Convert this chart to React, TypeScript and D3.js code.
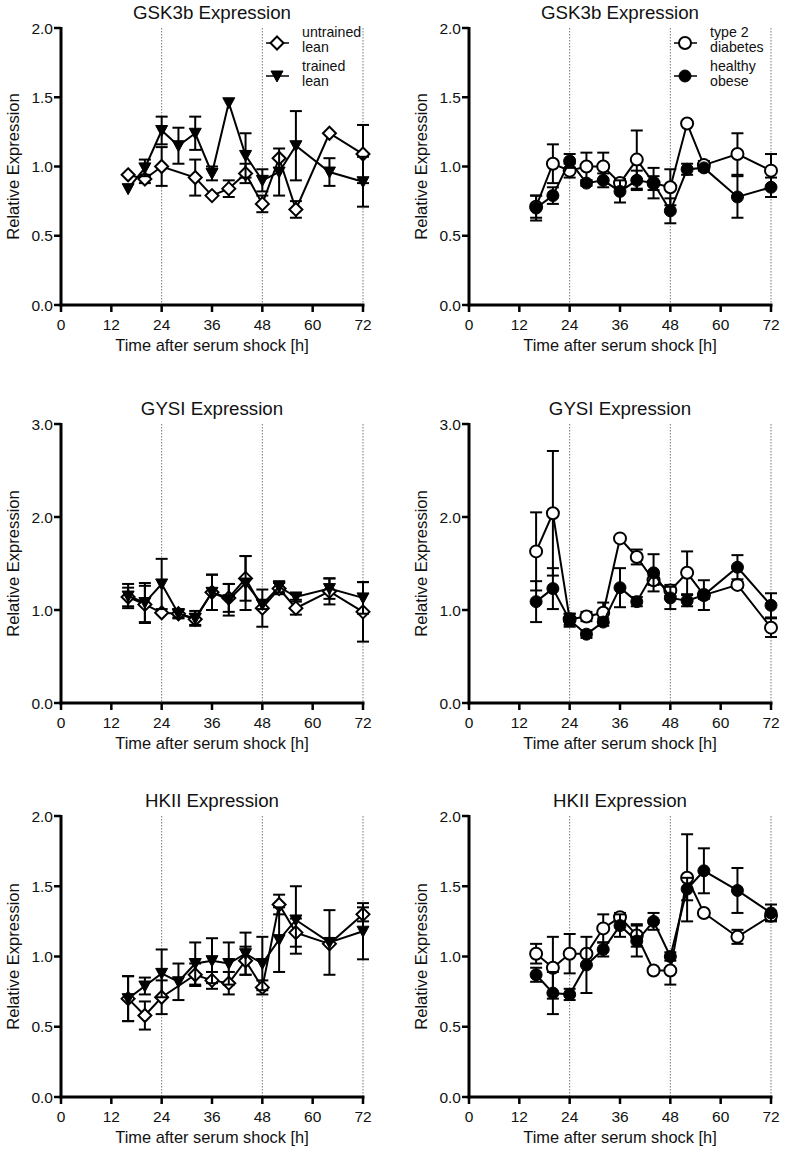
import React from 'react';
import * as d3 from 'd3';

// ---------- data ----------
const TIMES = [16, 20, 24, 28, 32, 36, 40, 44, 48, 52, 56, 64, 72];
const TIMES_NO28 = [16, 20, 24, 32, 36, 40, 44, 48, 52, 56, 64, 72];
const X_TICKS = [0, 12, 24, 36, 48, 60, 72];
const DOTTED_TIMES = [24, 48, 72];
const Y_TICKS_2 = [0, 0.5, 1, 1.5, 2];
const Y_TICKS_3 = [0, 1, 2, 3];

const TITLES = ['GSK3b Expression', 'GSK3b Expression', 'GYSI Expression', 'GYSI Expression', 'HKII Expression', 'HKII Expression'];
const LEGEND_LEFT = [['untrained', 'lean'], ['trained', 'lean']];
const LEGEND_RIGHT = [['type 2', 'diabetes'], ['healthy', 'obese']];

// GSK3b left
const gskUntrained = [0.94, 0.91, 1.0, 0.92, 0.79, 0.84, 0.95, 0.73, 1.06, 0.69, 1.24, 1.09];
const gskUntrainedSem = [0, 0.03, 0.14, 0.13, 0, 0.06, 0.07, 0.06, 0, 0.06, 0, 0.21];
const gskTrained = [0.84, 0.99, 1.26, 1.15, 1.24, 0.95, 1.46, 1.08, 0.9, 0.96, 1.15, 0.96, 0.89];
const gskTrainedSem = [0, 0.06, 0.1, 0.13, 0.12, 0.05, 0, 0.16, 0.08, 0.17, 0.25, 0.1, 0.18];
// GSK3b right
const gskT2D = [0.71, 1.02, 0.97, 1.0, 1.0, 0.88, 1.05, 0.88, 0.85, 1.31, 1.01, 1.09, 0.97];
const gskT2DSem = [0.08, 0.14, 0.05, 0.1, 0.1, 0.03, 0.21, 0.05, 0.13, 0, 0.03, 0.15, 0.12];
const gskObese = [0.7, 0.79, 1.04, 0.88, 0.9, 0.82, 0.9, 0.88, 0.68, 0.98, 0.99, 0.78, 0.85];
const gskObeseSem = [0.09, 0.06, 0.05, 0.02, 0.05, 0.08, 0.07, 0.11, 0.09, 0.04, 0.02, 0.15, 0.07];
// GYSI left
const gysUntrained = [1.14, 1.06, 0.97, 0.96, 0.9, 1.19, 1.13, 1.34, 1.02, 1.23, 1.02, 1.2, 0.98];
const gysUntrainedSem = [0.1, 0.2, 0, 0.04, 0.06, 0.19, 0.15, 0.24, 0.2, 0.06, 0.07, 0.14, 0.32];
const gysTrained = [1.15, 1.08, 1.28, 0.96, 0.91, 1.19, 1.11, 1.29, 1.06, 1.25, 1.14, 1.23, 1.13];
const gysTrainedSem = [0.13, 0.21, 0.27, 0.05, 0.08, 0.19, 0.17, 0.29, 0.05, 0.06, 0.03, 0.11, 0.17];
// GYSI right
const gysT2D = [1.63, 2.04, 0.9, 0.93, 0.97, 1.77, 1.57, 1.32, 1.21, 1.4, 1.16, 1.27, 0.81];
const gysT2DSem = [0.42, 0.67, 0.06, 0.05, 0.11, 0, 0.08, 0.05, 0.06, 0.23, 0.04, 0.03, 0.1];
const gysObese = [1.09, 1.23, 0.89, 0.74, 0.87, 1.24, 1.09, 1.4, 1.13, 1.1, 1.16, 1.46, 1.05];
const gysObeseSem = [0.22, 0.22, 0.07, 0.04, 0.04, 0.21, 0.05, 0.2, 0.12, 0.06, 0.16, 0.13, 0.13];
// HKII left
const hkUntrained = [0.7, 0.58, 0.71, 0.87, 0.83, 0.81, 0.97, 0.78, 1.37, 1.17, 1.09, 1.3];
const hkUntrainedSem = [0.16, 0.1, 0.12, 0.08, 0.06, 0.08, 0.1, 0.05, 0.07, 0.1, 0, 0.05];
const hkTrained = [0.7, 0.79, 0.88, 0.82, 0.95, 0.97, 0.95, 1.02, 0.95, 1.12, 1.26, 1.1, 1.18];
const hkTrainedSem = [0.16, 0.06, 0.17, 0.13, 0.15, 0.16, 0.15, 0.15, 0.19, 0.23, 0.24, 0.23, 0.2];
// HKII right
const hkT2D = [1.02, 0.92, 1.02, 1.02, 1.2, 1.28, 1.15, 0.9, 0.9, 1.56, 1.31, 1.14, 1.29];
const hkT2DSem = [0.07, 0.22, 0.14, 0, 0.1, 0.03, 0.08, 0, 0.1, 0.31, 0, 0.05, 0.03];
const hkObese = [0.87, 0.74, 0.73, 0.94, 1.05, 1.22, 1.11, 1.25, 1.0, 1.48, 1.61, 1.47, 1.31];
const hkObeseSem = [0.05, 0.15, 0.04, 0.2, 0.05, 0.08, 0.11, 0.06, 0.03, 0.08, 0.16, 0.16, 0.06];

type Marker = 'diamond' | 'triangle' | 'circleOpen' | 'circleFilled';
interface Series { t: number[]; v: number[]; sem: number[]; marker: Marker; }

const FONT = "Arial, 'Liberation Sans', Helvetica, sans-serif";
const COLS = [61, 469];
const PLOT_W = 302;
const ROWS = [
  { top: 28, bottom: 305 },
  { top: 424, bottom: 703 },
  { top: 816, bottom: 1097 },
];

function MarkerShape({ type, x, y }: { type: Marker; x: number; y: number }) {
  if (type === 'diamond') {
    const r = 6.5;
    return <path d={`M${x},${y - r}L${x + r},${y}L${x},${y + r}L${x - r},${y}Z`} fill="#fff" stroke="#000" strokeWidth={2} />;
  }
  if (type === 'triangle') {
    return <path d={`M${x - 6},${y - 5}L${x + 6},${y - 5}L${x},${y + 6}Z`} fill="#000" stroke="#000" strokeWidth={1} />;
  }
  if (type === 'circleOpen') {
    return <circle cx={x} cy={y} r={6} fill="#fff" stroke="#000" strokeWidth={2} />;
  }
  return <circle cx={x} cy={y} r={6} fill="#000" stroke="#000" strokeWidth={1} />;
}

function Panel({ col, row, ymax, yticks, title, series, legend }: {
  col: number; row: number; ymax: number; yticks: number[]; title: string; series: Series[]; legend: string[][];
}) {
  const x0 = COLS[col];
  const { top, bottom } = ROWS[row];
  const xs = d3.scaleLinear().domain([0, 72]).range([x0, x0 + PLOT_W]);
  const ys = d3.scaleLinear().domain([0, ymax]).range([bottom, top]);
  const fmt = d3.format('.1f');
  const line = d3.line<[number, number]>().x(d => xs(d[0])).y(d => ys(d[1]));
  const legendMarkers: Marker[] = [series[0].marker, series[1].marker];
  const legendY = [{ sym: 43, l1: 37, l2: 52 }, { sym: 76, l1: 71, l2: 86 }];
  return (
    <g>
      <text x={(x0 + x0 + PLOT_W) / 2} y={top - 9} textAnchor="middle" fontSize={18.7} fontFamily={FONT} fill="#111">{title}</text>
      {DOTTED_TIMES.map(t => (
        <line key={t} x1={xs(t)} x2={xs(t)} y1={top} y2={bottom} stroke="#777" strokeWidth={1} strokeDasharray="1.5,1.5" />
      ))}
      {series.map((s, si) => {
        const pts = s.t.map((t, i) => [t, s.v[i]] as [number, number]);
        return (
          <g key={si}>
            <path d={line(pts) || ''} fill="none" stroke="#000" strokeWidth={2} />
            {s.t.map((t, i) => s.sem[i] > 0 ? (
              <g key={i} stroke="#000" strokeWidth={2}>
                <line x1={xs(t)} x2={xs(t)} y1={ys(s.v[i] - s.sem[i])} y2={ys(s.v[i] + s.sem[i])} />
                <line x1={xs(t) - 6} x2={xs(t) + 6} y1={ys(s.v[i] - s.sem[i])} y2={ys(s.v[i] - s.sem[i])} />
                <line x1={xs(t) - 6} x2={xs(t) + 6} y1={ys(s.v[i] + s.sem[i])} y2={ys(s.v[i] + s.sem[i])} />
              </g>
            ) : null)}
            {s.t.map((t, i) => <MarkerShape key={'m' + i} type={s.marker} x={xs(t)} y={ys(s.v[i])} />)}
          </g>
        );
      })}
      {/* axes */}
      <line x1={x0} x2={x0} y1={top - 1} y2={bottom + 1.5} stroke="#000" strokeWidth={3} />
      <line x1={x0 - 1.5} x2={x0 + PLOT_W + 1.5} y1={bottom} y2={bottom} stroke="#000" strokeWidth={3} />
      {yticks.map(v => (
        <g key={v}>
          <line x1={x0 - 7} x2={x0} y1={ys(v)} y2={ys(v)} stroke="#000" strokeWidth={2.5} />
          <text x={x0 - 8} y={ys(v)} dy="0.36em" textAnchor="end" fontSize={15.5} fontFamily={FONT} fill="#111">{fmt(v)}</text>
        </g>
      ))}
      {X_TICKS.map(t => (
        <g key={t}>
          <line x1={xs(t)} x2={xs(t)} y1={bottom} y2={bottom + 7} stroke="#000" strokeWidth={2.5} />
          <text x={xs(t)} y={bottom + 25} textAnchor="middle" fontSize={15.5} fontFamily={FONT} fill="#111">{t}</text>
        </g>
      ))}
      <text x={x0 + PLOT_W / 2} y={bottom + 46} textAnchor="middle" fontSize={16.4} fontFamily={FONT} fill="#111">Time after serum shock [h]</text>
      <text transform={`translate(${x0 - 42},${(top + bottom) / 2}) rotate(-90)`} textAnchor="middle" fontSize={16.6} fontFamily={FONT} fill="#111">Relative Expression</text>
      {legend.length > 0 && legend.map((lines, li) => (
        <g key={li}>
          <line x1={x0 + 205} x2={x0 + 228} y1={legendY[li].sym} y2={legendY[li].sym} stroke="#000" strokeWidth={1.5} />
          <MarkerShape type={legendMarkers[li]} x={x0 + 216} y={legendY[li].sym} />
          <text x={x0 + 241} y={legendY[li].l1} fontSize={14.2} fontFamily={FONT} fill="#111">{lines[0]}</text>
          <text x={x0 + 241} y={legendY[li].l2} fontSize={14.2} fontFamily={FONT} fill="#111">{lines[1]}</text>
        </g>
      ))}
    </g>
  );
}

export default function App() {
  const panels = [
    { col: 0, row: 0, ymax: 2, yticks: Y_TICKS_2, legend: LEGEND_LEFT, series: [
      { t: TIMES_NO28, v: gskUntrained, sem: gskUntrainedSem, marker: 'diamond' as Marker },
      { t: TIMES, v: gskTrained, sem: gskTrainedSem, marker: 'triangle' as Marker },
    ] },
    { col: 1, row: 0, ymax: 2, yticks: Y_TICKS_2, legend: LEGEND_RIGHT, series: [
      { t: TIMES, v: gskT2D, sem: gskT2DSem, marker: 'circleOpen' as Marker },
      { t: TIMES, v: gskObese, sem: gskObeseSem, marker: 'circleFilled' as Marker },
    ] },
    { col: 0, row: 1, ymax: 3, yticks: Y_TICKS_3, legend: [], series: [
      { t: TIMES, v: gysUntrained, sem: gysUntrainedSem, marker: 'diamond' as Marker },
      { t: TIMES, v: gysTrained, sem: gysTrainedSem, marker: 'triangle' as Marker },
    ] },
    { col: 1, row: 1, ymax: 3, yticks: Y_TICKS_3, legend: [], series: [
      { t: TIMES, v: gysT2D, sem: gysT2DSem, marker: 'circleOpen' as Marker },
      { t: TIMES, v: gysObese, sem: gysObeseSem, marker: 'circleFilled' as Marker },
    ] },
    { col: 0, row: 2, ymax: 2, yticks: Y_TICKS_2, legend: [], series: [
      { t: TIMES_NO28, v: hkUntrained, sem: hkUntrainedSem, marker: 'diamond' as Marker },
      { t: TIMES, v: hkTrained, sem: hkTrainedSem, marker: 'triangle' as Marker },
    ] },
    { col: 1, row: 2, ymax: 2, yticks: Y_TICKS_2, legend: [], series: [
      { t: TIMES, v: hkT2D, sem: hkT2DSem, marker: 'circleOpen' as Marker },
      { t: TIMES, v: hkObese, sem: hkObeseSem, marker: 'circleFilled' as Marker },
    ] },
  ];
  return (
    <svg width={787} height={1153} style={{ position: 'absolute', left: 0, top: 0, background: '#fff' }}>
      <rect x={0} y={0} width={787} height={1153} fill="#fff" />
      {panels.map((p, i) => (
        <Panel key={i} col={p.col} row={p.row} ymax={p.ymax} yticks={p.yticks} title={TITLES[i]} series={p.series} legend={p.legend} />
      ))}
    </svg>
  );
}
